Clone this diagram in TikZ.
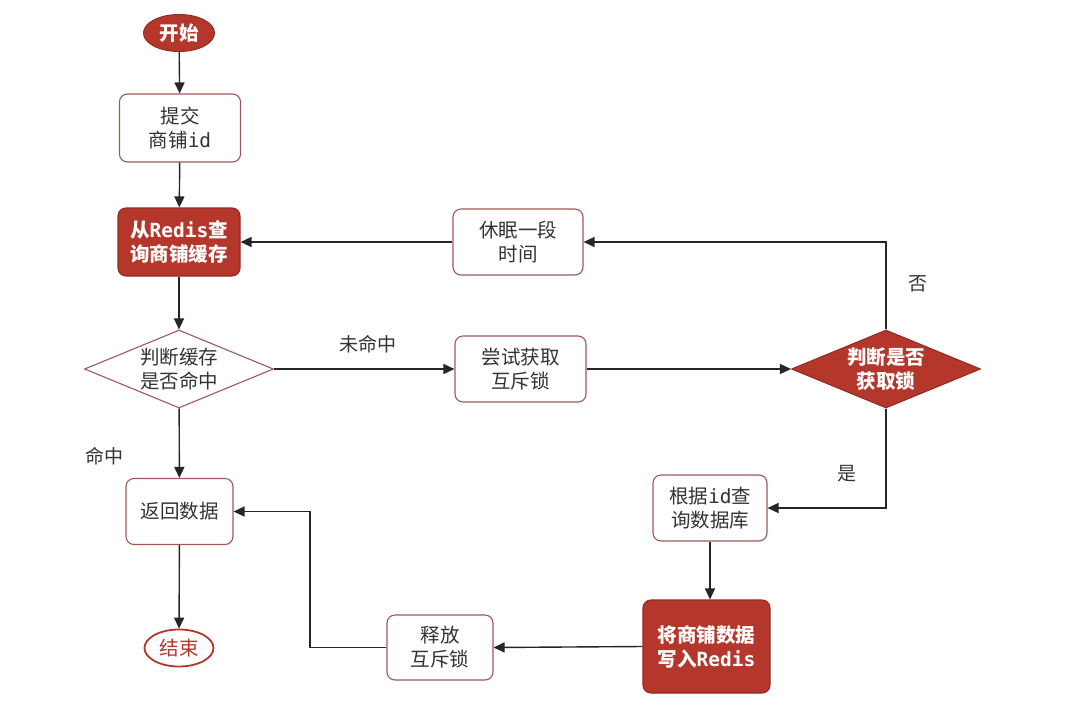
\documentclass[tikz,border=0pt]{standalone}
\usepackage{fontspec}
\setmainfont{Noto Sans CJK SC}
\newfontfamily\lat{DejaVu Sans Mono}
\usetikzlibrary{shapes.geometric,arrows.meta}
\definecolor{dred}{HTML}{B5372C}
\definecolor{bord}{HTML}{A25858}
\definecolor{txt}{HTML}{333333}
\begin{document}
\begin{tikzpicture}[x=1pt,y=-1pt,
  lbl/.style={font=\fontsize{19.5}{24}\selectfont, text=txt, align=center, inner sep=0pt},
  wbox/.style={lbl, draw=bord, line width=1.1pt, rounded corners=8pt, fill=white},
  rbox/.style={lbl, draw=dred!80!black, line width=1.1pt, rounded corners=8pt, fill=dred, text=white, font=\fontsize{19.5}{24}\selectfont\bfseries},
  diam/.style={diamond, draw, inner sep=0pt, line width=1.1pt},
  conn/.style={draw=black!85, line width=1.4pt, -{Triangle[length=11pt,width=10pt]}},
  elab/.style={font=\fontsize{19}{23}\selectfont, text=txt, inner sep=0pt}
]
\useasboundingbox (0,0) rectangle (1080,705);
\fill[white] (0,0) rectangle (1080,705);

% nodes
\node[ellipse, fill=dred, draw=dred!80!black, line width=1pt, minimum width=71pt, minimum height=37pt, inner sep=0pt, font=\fontsize{19.5}{24}\selectfont\bfseries, text=white] (start) at (179,33) {开始};
\node[wbox, minimum width=121pt, minimum height=68pt] (submit) at (180,128) {提交\\商铺{\lat id}};
\node[rbox, minimum width=122pt, minimum height=68pt] (query) at (179,242) {从{\lat Redis}查\\询商铺缓存};
\node[diam, draw=bord, fill=white, minimum width=189pt, minimum height=78pt] (d1) at (179,369) {};
\node[lbl] (d1t) at (d1) {判断缓存\\是否命中};
\node[wbox, minimum width=107pt, minimum height=66pt] (ret) at (179.5,511.5) {返回数据};
\node[ellipse, draw=dred, line width=1.8pt, fill=white, minimum width=69pt, minimum height=37pt, inner sep=0pt, font=\fontsize{19.5}{24}\selectfont, text=dred] (end) at (179,648) {结束};

\node[wbox, minimum width=130pt, minimum height=66pt] (sleep) at (518,242) {休眠一段\\时间};
\node[wbox, minimum width=131pt, minimum height=66pt] (try) at (520.5,369) {尝试获取\\互斥锁};
\node[diam, draw=dred!80!black, fill=dred, minimum width=189pt, minimum height=78pt] (d2) at (886,369) {};
\node[lbl, text=white, font=\fontsize{19.5}{24}\selectfont\bfseries] (d2t) at (d2) {判断是否\\获取锁};

\node[wbox, minimum width=114pt, minimum height=66pt] (db) at (710,508) {根据{\lat id}查\\询数据库};
\node[rbox, minimum width=127pt, minimum height=93pt] (write) at (706.5,646.5) {将商铺数据\\写入{\lat Redis}};
\node[wbox, minimum width=106pt, minimum height=65pt] (rel) at (440,647.5) {释放\\互斥锁};

% edge labels
\node[elab] (lhit) at (104,456) {命中};
\node[elab] (lmiss) at (368,344) {未命中};
\node[elab] (lno) at (918,284) {否};
\node[elab] (lyes) at (847,474) {是};

% connectors
\draw[conn] (start) -- (submit);
\draw[conn] (submit) -- (query);
\draw[conn] (query) -- (d1);
\draw[conn] (d1) -- (ret);
\draw[conn] (ret) -- (end);
\draw[conn] (d1.east) -- (try.west);
\draw[conn] (try.east) -- (d2.west);
\draw[conn] (d2.north) |- (sleep.east);
\draw[conn] (sleep.west) -- (query.east);
\draw[conn] (d2.south) |- (db.east);
\draw[conn] (db.south) -- (db.south |- write.north);
\draw[conn] (write.west) -- (rel.east);
\coordinate (bend) at (310,647.5);
\draw[conn] (rel.west) -- (bend) |- (ret.east);
\end{tikzpicture}
\end{document}
